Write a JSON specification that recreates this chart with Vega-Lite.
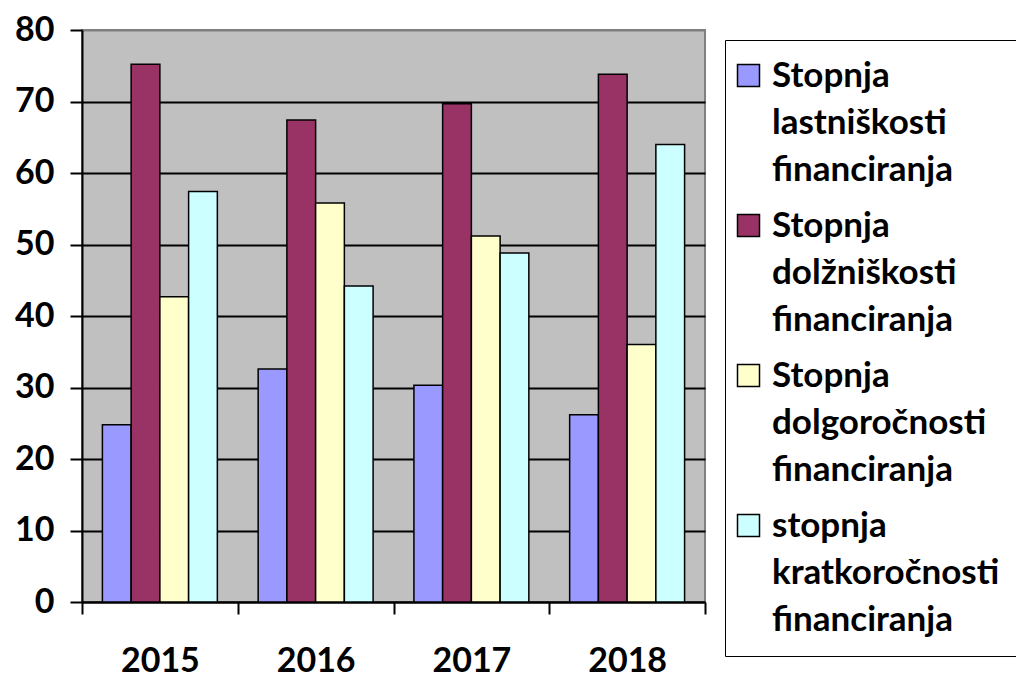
{
  "$schema": "https://vega.github.io/schema/vega-lite/v6.json",
  "width": 623,
  "height": 572,
  "autosize": {"type": "none"},
  "padding": {"left": 82, "top": 30, "right": 311, "bottom": 76},
  "background": "white",
  "data": {
    "values": [
      {"leto": "2015", "serija": "Stopnja lastniškosti financiranja", "vrednost": 24.8},
      {"leto": "2015", "serija": "Stopnja dolžniškosti financiranja", "vrednost": 75.2},
      {"leto": "2015", "serija": "Stopnja dolgoročnosti financiranja", "vrednost": 42.7},
      {"leto": "2015", "serija": "stopnja kratkoročnosti financiranja", "vrednost": 57.4},
      {"leto": "2016", "serija": "Stopnja lastniškosti financiranja", "vrednost": 32.6},
      {"leto": "2016", "serija": "Stopnja dolžniškosti financiranja", "vrednost": 67.4},
      {"leto": "2016", "serija": "Stopnja dolgoročnosti financiranja", "vrednost": 55.8},
      {"leto": "2016", "serija": "stopnja kratkoročnosti financiranja", "vrednost": 44.2},
      {"leto": "2017", "serija": "Stopnja lastniškosti financiranja", "vrednost": 30.3},
      {"leto": "2017", "serija": "Stopnja dolžniškosti financiranja", "vrednost": 69.7},
      {"leto": "2017", "serija": "Stopnja dolgoročnosti financiranja", "vrednost": 51.2},
      {"leto": "2017", "serija": "stopnja kratkoročnosti financiranja", "vrednost": 48.8},
      {"leto": "2018", "serija": "Stopnja lastniškosti financiranja", "vrednost": 26.2},
      {"leto": "2018", "serija": "Stopnja dolžniškosti financiranja", "vrednost": 73.8},
      {"leto": "2018", "serija": "Stopnja dolgoročnosti financiranja", "vrednost": 36.0},
      {"leto": "2018", "serija": "stopnja kratkoročnosti financiranja", "vrednost": 64.0}
    ]
  },
  "config": {
    "font": "Lato",
    "view": {"fill": "#C0C0C0", "stroke": "#808080", "strokeWidth": 2}
  },
  "mark": {"type": "bar", "stroke": "black", "strokeWidth": 1.5},
  "encoding": {
    "x": {
      "field": "leto",
      "type": "nominal",
      "title": null,
      "scale": {"paddingInner": 0, "paddingOuter": 0},
      "axis": {
        "labelAngle": 0,
        "labelFont": "Lato",
        "labelFontWeight": "bold",
        "labelFontSize": 34,
        "labelColor": "black",
        "labelPadding": 30,
        "tickBand": "extent",
        "tickSize": 12,
        "tickColor": "black",
        "tickWidth": 2,
        "domainColor": "black",
        "domainWidth": 2
      }
    },
    "xOffset": {
      "field": "serija",
      "type": "nominal",
      "sort": null,
      "scale": {"paddingInner": 0, "paddingOuter": 0.71}
    },
    "y": {
      "field": "vrednost",
      "type": "quantitative",
      "title": null,
      "scale": {"domain": [0, 80], "nice": false},
      "axis": {
        "values": [0, 10, 20, 30, 40, 50, 60, 70, 80],
        "labelFont": "Lato",
        "labelFontWeight": "bold",
        "labelFontSize": 34,
        "labelColor": "black",
        "labelPadding": 16,
        "tickSize": 12,
        "tickColor": "black",
        "tickWidth": 2,
        "domainColor": "black",
        "domainWidth": 2,
        "grid": true,
        "gridColor": {"condition": {"test": "datum.value === 80", "value": "#808080"}, "value": "black"},
        "gridWidth": 2,
        "gridOpacity": 1
      }
    },
    "color": {
      "field": "serija",
      "type": "nominal",
      "title": null,
      "scale": {
        "domain": [
          "Stopnja lastniškosti financiranja",
          "Stopnja dolžniškosti financiranja",
          "Stopnja dolgoročnosti financiranja",
          "stopnja kratkoročnosti financiranja"
        ],
        "range": ["#9999FF", "#993366", "#FFFFCC", "#CCFFFF"]
      },
      "legend": {
        "orient": "none",
        "legendX": 643,
        "legendY": 10,
        "labelExpr": "split(datum.label, ' ')",
        "labelFont": "Lato",
        "labelFontWeight": "bold",
        "labelFontSize": 35,
        "labelColor": "black",
        "labelLimit": 400,
        "labelOffset": 6,
        "symbolOffset": -12,
        "symbolType": "square",
        "symbolSize": 484,
        "symbolStrokeColor": "black",
        "symbolStrokeWidth": 1.5,
        "symbolOpacity": 1,
        "rowPadding": 20,
        "padding": 18,
        "strokeColor": "black",
        "fillColor": "white",
        "encode": {
          "labels": {"update": {"lineHeight": {"value": 47}}}
        }
      }
    }
  }
}
